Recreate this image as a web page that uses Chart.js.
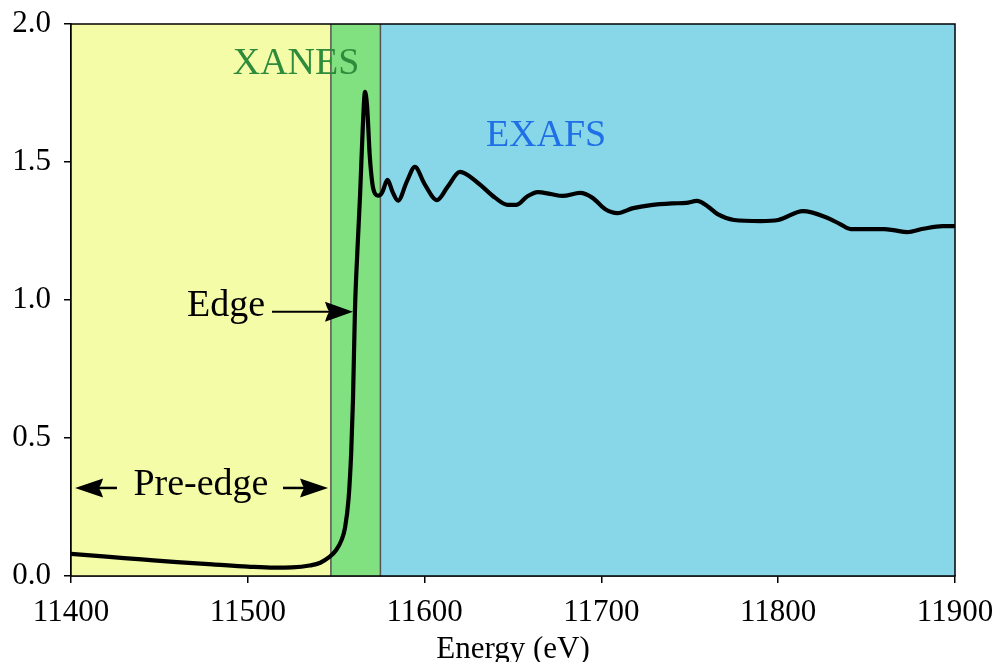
<!DOCTYPE html>
<html>
<head>
<meta charset="utf-8">
<script src="https://cdn.jsdelivr.net/npm/chart.js@4"></script>
<style>
  html, body { margin: 0; padding: 0; background: #fff; }
  #wrap { width: 995px; height: 662px; }
</style>
</head>
<body>
<div id="wrap"><canvas id="c" width="995" height="662"></canvas></div>
<script>
// X-ray absorption spectrum across the K-edge (energy in eV)
const energy = [11400, 11420, 11440, 11460, 11480, 11500, 11515, 11525, 11535, 11541,
  11546, 11550, 11553, 11555, 11557, 11558.5, 11559.5, 11560.6, 11562, 11563.5,
  11565, 11566.3, 11567.5, 11569, 11570.5, 11572, 11574, 11576, 11579, 11582,
  11585, 11590, 11594.5, 11600, 11607, 11613, 11620, 11630, 11640, 11647,
  11652, 11658, 11664, 11672, 11678, 11688, 11695, 11702, 11709, 11718,
  11728, 11740, 11748, 11754, 11760, 11766, 11775, 11790, 11800, 11814,
  11827, 11835, 11841, 11860, 11866, 11873, 11882, 11893, 11900];
const absorbance = [0.080, 0.070, 0.060, 0.050, 0.042, 0.034, 0.030, 0.031, 0.038, 0.048,
  0.068, 0.094, 0.130, 0.175, 0.280, 0.450, 0.640, 0.960, 1.180, 1.380,
  1.620, 1.754, 1.700, 1.520, 1.420, 1.385, 1.378, 1.390, 1.435, 1.390,
  1.360, 1.430, 1.482, 1.420, 1.362, 1.410, 1.464, 1.425, 1.370, 1.345,
  1.345, 1.375, 1.391, 1.383, 1.377, 1.388, 1.370, 1.330, 1.315, 1.333,
  1.344, 1.350, 1.352, 1.359, 1.340, 1.310, 1.290, 1.286, 1.290, 1.322,
  1.300, 1.275, 1.257, 1.257, 1.252, 1.246, 1.258, 1.268, 1.268];

// Spectral regions: [start, end] in eV
const regionNames = ['Pre-edge', 'XANES', 'EXAFS'];
const regionBounds = [[11400, 11547], [11547, 11575], [11575, 11900]];
const regionColors = ['#f4fca7', '#81e07f', '#88d7e9'];

const xTicks = [11400, 11500, 11600, 11700, 11800, 11900];
const yTicks = [0.0, 0.5, 1.0, 1.5, 2.0];

const SERIF = '"Liberation Serif", "DejaVu Serif", serif';

// straight arrow with a filled, slightly notched head
function arrow(ctx, x0, y0, x1, y1, headLen, headW, lw) {
  const ang = Math.atan2(y1 - y0, x1 - x0);
  const c = Math.cos(ang), s = Math.sin(ang);
  const bx = x1 - headLen * c, by = y1 - headLen * s;
  const notch = headLen * 0.18;
  ctx.save();
  ctx.strokeStyle = '#000'; ctx.fillStyle = '#000'; ctx.lineWidth = lw;
  ctx.beginPath(); ctx.moveTo(x0, y0); ctx.lineTo(bx + notch * c, by + notch * s); ctx.stroke();
  ctx.beginPath();
  ctx.moveTo(x1, y1);
  ctx.lineTo(bx + headW / 2 * s, by - headW / 2 * c);
  ctx.quadraticCurveTo(bx + notch * 0.6 * c, by + notch * 0.6 * s, bx + notch * c, by + notch * s);
  ctx.quadraticCurveTo(bx + notch * 0.6 * c, by + notch * 0.6 * s, bx - headW / 2 * s, by + headW / 2 * c);
  ctx.closePath(); ctx.fill();
  ctx.restore();
}

const regionPlugin = {
  id: 'regions',
  beforeDatasetsDraw(chart) {
    const { ctx, chartArea: a, scales: { x } } = chart;
    ctx.save();
    regionBounds.forEach((b, i) => {
      const x0 = x.getPixelForValue(b[0]), x1 = x.getPixelForValue(b[1]);
      ctx.fillStyle = regionColors[i];
      ctx.fillRect(x0, a.top, x1 - x0, a.bottom - a.top);
    });
    ctx.strokeStyle = '#555';
    ctx.lineWidth = 1.5;
    [regionBounds[1][0], regionBounds[1][1]].forEach(v => {
      const px = x.getPixelForValue(v);
      ctx.beginPath(); ctx.moveTo(px, a.top); ctx.lineTo(px, a.bottom); ctx.stroke();
    });
    ctx.restore();
  },
  afterDatasetsDraw(chart) {
    const { ctx, chartArea: a, scales: { x, y } } = chart;
    ctx.save();
    ctx.textAlign = 'center';
    ctx.textBaseline = 'middle';
    ctx.font = '38px ' + SERIF;
    ctx.fillStyle = '#2e8b3b';
    ctx.fillText(regionNames[1], x.getPixelForValue(11527.3), y.getPixelForValue(1.855));
    ctx.fillStyle = '#1f6fe6';
    ctx.fillText(regionNames[2], x.getPixelForValue(11668.7), y.getPixelForValue(1.594));
    ctx.fillStyle = '#000';
    ctx.fillText('Edge', x.getPixelForValue(11487.7), y.getPixelForValue(0.978));
    arrow(ctx, x.getPixelForValue(11513.7), y.getPixelForValue(0.957),
          x.getPixelForValue(11559.5), y.getPixelForValue(0.957), 28, 20, 2);
    ctx.fillText(regionNames[0], x.getPixelForValue(11473.5), y.getPixelForValue(0.33));
    const yp = y.getPixelForValue(0.319);
    arrow(ctx, x.getPixelForValue(11426), yp, x.getPixelForValue(11402.3), yp, 28, 19, 2.5);
    arrow(ctx, x.getPixelForValue(11519.9), yp, x.getPixelForValue(11545.4), yp, 28, 19, 2.5);
    // frame
    ctx.strokeStyle = '#000';
    ctx.lineWidth = 1.5;
    ctx.strokeRect(a.left, a.top, a.right - a.left, a.bottom - a.top);
    ctx.restore();
  }
};

new Chart(document.getElementById('c'), {
  type: 'line',
  data: {
    datasets: [{
      data: energy.map((e, i) => ({ x: e, y: absorbance[i] })),
      borderColor: '#000',
      borderWidth: 4.2,
      pointRadius: 0,
      cubicInterpolationMode: 'monotone',
      fill: false
    }]
  },
  options: {
    responsive: false,
    animation: false,
    layout: { padding: { top: 24, right: 40, left: 0, bottom: 0 } },
    plugins: { legend: { display: false }, tooltip: { enabled: false } },
    scales: {
      x: {
        type: 'linear', min: 11400, max: 11900,
        afterBuildTicks: s => { s.ticks = xTicks.map(v => ({ value: v })); },
        afterFit: s => { s.height = 86; s.paddingLeft = 0; s.paddingRight = 0; },
        ticks: { color: '#000', font: { family: SERIF, size: 31 }, padding: 11, maxRotation: 0,
                 callback: v => String(v) },
        grid: { drawOnChartArea: false, color: '#000', tickLength: 7, lineWidth: 1.5 },
        border: { color: '#000', width: 1.5 },
        title: { display: true, text: 'Energy (eV)', color: '#000',
                 font: { family: SERIF, size: 31 }, padding: { top: 0, bottom: -6 } }
      },
      y: {
        min: 0, max: 2,
        afterBuildTicks: s => { s.ticks = yTicks.map(v => ({ value: v })); },
        afterFit: s => { s.width = 71; s.paddingTop = 0; s.paddingBottom = 0; },
        ticks: { color: '#000', font: { family: SERIF, size: 31 }, padding: 13,
                 callback: v => v.toFixed(1) },
        grid: { drawOnChartArea: false, color: '#000', tickLength: 7, lineWidth: 1.5 },
        border: { color: '#000', width: 1.5 }
      }
    }
  },
  plugins: [regionPlugin]
});
</script>
</body>
</html>
